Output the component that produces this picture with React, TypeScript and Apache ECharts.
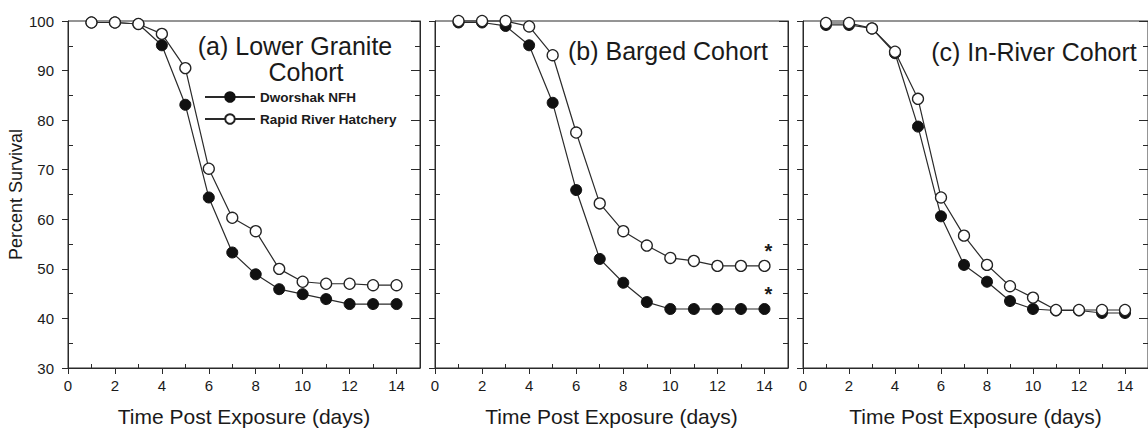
import React, { useEffect, useRef } from "react";
import * as echarts from "echarts";

// ---- data ----
const days = [1, 2, 3, 4, 5, 6, 7, 8, 9, 10, 11, 12, 13, 14];
const seriesNames = ["Dworshak NFH", "Rapid River Hatchery"];

const lowerGraniteDworshak = [99.7, 99.7, 99.4, 95.1, 83.1, 64.4, 53.3, 48.9, 45.9, 44.9, 43.9, 42.9, 42.9, 42.9];
const lowerGraniteRapid = [99.7, 99.7, 99.4, 97.4, 90.5, 70.2, 60.3, 57.6, 50.0, 47.4, 47.0, 47.0, 46.7, 46.7];
const bargedDworshak = [99.7, 99.7, 99.0, 95.1, 83.5, 65.9, 52.0, 47.2, 43.3, 41.9, 41.9, 41.9, 41.9, 41.9];
const bargedRapid = [100, 100, 100, 98.9, 93.1, 77.5, 63.2, 57.6, 54.7, 52.2, 51.6, 50.6, 50.6, 50.6];
const inRiverDworshak = [99.2, 99.2, 98.5, 93.5, 78.7, 60.6, 50.8, 47.4, 43.5, 41.9, 41.6, 41.6, 41.1, 41.1];
const inRiverRapid = [99.6, 99.6, 98.5, 93.8, 84.3, 64.4, 56.7, 50.8, 46.5, 44.2, 41.7, 41.7, 41.7, 41.7];

const panelTitles = [["(a) Lower Granite", "Cohort"], ["(b) Barged Cohort"], ["(c) In-River Cohort"]];
const panelData = [
  [lowerGraniteDworshak, lowerGraniteRapid],
  [bargedDworshak, bargedRapid],
  [inRiverDworshak, inRiverRapid],
];
// days flagged with an asterisk (significant difference), per panel
const asteriskDays = [[], [14], []];

const xMajorTicks = [0, 2, 4, 6, 8, 10, 12, 14];
const xMinorTicks = [1, 3, 5, 7, 9, 11, 13];
const yMajorTicks = [30, 40, 50, 60, 70, 80, 90, 100];
const yMinorTicks = [35, 45, 55, 65, 75, 85, 95];

const xAxisName = "Time Post Exposure (days)";
const yAxisName = "Percent Survival";

// ---- layout / style ----
const FONT = "'Liberation Sans', Arial, Helvetica, sans-serif";
const INK = "#1a1a1a";
const LINE = "#2a2a2a";
const gridLefts = [68, 435, 803];
const gridWidths = [352, 353, 352];
const GRID_TOP = 21;
const GRID_H = 352;
const titlePos = [
  [[295, 46], [306, 72]],
  [[668, 51]],
  [[1034, 52]],
];

function buildOption() {
  const grid: any[] = [];
  const xAxis: any[] = [];
  const yAxis: any[] = [];
  const series: any[] = [];
  const graphic: any[] = [];

  for (let p = 0; p < 3; p++) {
    grid.push({
      left: gridLefts[p],
      top: GRID_TOP,
      width: gridWidths[p],
      height: GRID_H,
      show: true,
      borderColor: LINE,
      borderWidth: 1,
      backgroundColor: "transparent",
      containLabel: false,
    });
    const xMain = xAxis.length;
    xAxis.push({
      type: "value",
      gridIndex: p,
      min: 0,
      max: 15,
      position: "bottom",
      axisLine: { show: true, lineStyle: { color: LINE, width: 1 } },
      axisTick: { show: true, inside: false, length: 6, customValues: xMajorTicks, lineStyle: { color: LINE } },
      axisLabel: {
        show: true,
        customValues: xMajorTicks,
        margin: 10,
        color: INK,
        fontSize: 15,
        fontFamily: FONT,
      },
      splitLine: { show: false },
      name: xAxisName,
      nameLocation: "middle",
      nameGap: 38,
      nameTextStyle: { fontSize: 21, color: INK, fontFamily: FONT },
    });
    xAxis.push({
      type: "value",
      gridIndex: p,
      min: 0,
      max: 15,
      position: "bottom",
      axisLine: { show: false },
      axisTick: { show: true, inside: true, length: 4, customValues: xMinorTicks, lineStyle: { color: LINE } },
      axisLabel: { show: false },
      splitLine: { show: false },
    });
    const yMain = yAxis.length;
    yAxis.push({
      type: "value",
      gridIndex: p,
      min: 30,
      max: 100,
      position: "left",
      axisLine: { show: true, lineStyle: { color: LINE, width: 1 } },
      axisTick: { show: true, inside: false, length: 6, customValues: yMajorTicks, lineStyle: { color: LINE } },
      axisLabel: {
        show: p === 0,
        customValues: yMajorTicks,
        margin: 14,
        color: INK,
        fontSize: 15,
        fontFamily: FONT,
      },
      splitLine: { show: false },
      name: p === 0 ? yAxisName : "",
      nameLocation: "middle",
      nameGap: 42,
      nameRotate: 90,
      nameTextStyle: { fontSize: 18, color: INK, fontFamily: FONT },
    });
    yAxis.push({
      type: "value",
      gridIndex: p,
      min: 30,
      max: 100,
      position: "left",
      axisLine: { show: false },
      axisTick: { show: true, inside: true, length: 5, customValues: yMinorTicks, lineStyle: { color: LINE } },
      axisLabel: { show: false },
      splitLine: { show: false },
    });
    yAxis.push({
      type: "value",
      gridIndex: p,
      min: 30,
      max: 100,
      position: "right",
      axisLine: { show: true, lineStyle: { color: LINE, width: 1 } },
      axisTick: { show: true, inside: true, length: 9, customValues: yMajorTicks, lineStyle: { color: LINE } },
      axisLabel: { show: false },
      splitLine: { show: false },
    });
    yAxis.push({
      type: "value",
      gridIndex: p,
      min: 30,
      max: 100,
      position: "right",
      axisLine: { show: false },
      axisTick: { show: true, inside: true, length: 5, customValues: yMinorTicks, lineStyle: { color: LINE } },
      axisLabel: { show: false },
      splitLine: { show: false },
    });

    for (let s = 0; s < 2; s++) {
      const vals = panelData[p][s];
      const data = vals.map((v, i) => {
        if ((asteriskDays[p] as number[]).includes(days[i])) {
          return {
            value: [days[i], v],
            label: {
              show: true,
              formatter: "*",
              position: "top",
              offset: [4, 6],
              fontSize: 20,
              fontWeight: "bold",
              color: INK,
              fontFamily: FONT,
            },
          };
        }
        return [days[i], v];
      });
      series.push({
        type: "line",
        name: seriesNames[s],
        xAxisIndex: xMain,
        yAxisIndex: yMain,
        data,
        symbol: "circle",
        symbolSize: 11,
        showSymbol: true,
        lineStyle: { color: LINE, width: 1.2 },
        itemStyle:
          s === 0
            ? { color: "#111", borderColor: "#111", borderWidth: 1 }
            : { color: "#ffffff", borderColor: "#222", borderWidth: 1.3 },
        z: 2 + s,
        clip: false,
      });
    }

    panelTitles[p].forEach((t, i) => {
      graphic.push({
        type: "text",
        x: titlePos[p][i][0],
        y: titlePos[p][i][1],
        z: 10,
        style: {
          text: t,
          font: `25px ${FONT}`,
          fill: INK,
          textAlign: "center",
          textVerticalAlign: "middle",
        },
      });
    });
  }

  return {
    animation: false,
    backgroundColor: "#ffffff",
    textStyle: { fontFamily: FONT },
    grid,
    xAxis,
    yAxis,
    series,
    graphic,
    legend: {
      show: true,
      data: seriesNames,
      orient: "vertical",
      left: 204,
      top: 90,
      itemWidth: 50,
      itemHeight: 12,
      itemGap: 8,
      padding: 0,
      textStyle: { fontSize: 13.5, fontWeight: "bold", color: INK, fontFamily: FONT },
      selectedMode: false,
    },
  };
}

export default function App() {
  const ref = useRef<HTMLDivElement>(null);
  useEffect(() => {
    if (!ref.current) return;
    const chart = echarts.init(ref.current, undefined, { renderer: "svg" });
    chart.setOption(buildOption() as any);
    return () => chart.dispose();
  }, []);
  return (
    <div
      ref={ref}
      style={{ position: "absolute", left: 0, top: 0, width: 1148, height: 432, background: "#fff" }}
    />
  );
}
